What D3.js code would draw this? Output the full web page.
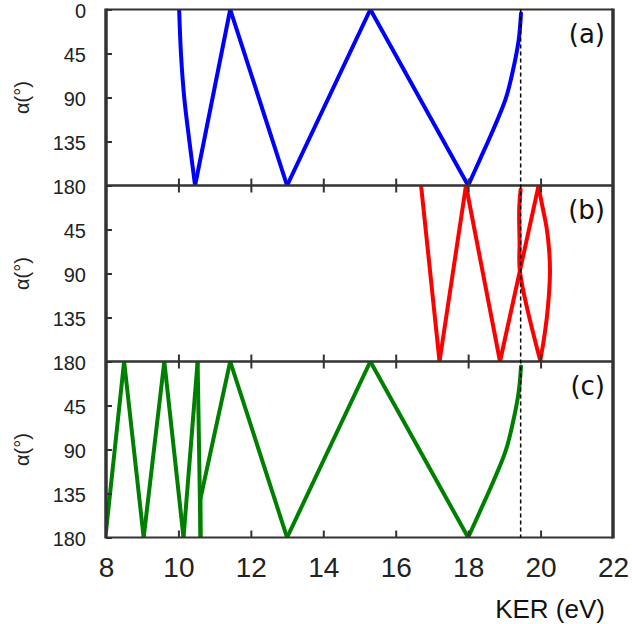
<!DOCTYPE html>
<html>
<head>
<meta charset="utf-8">
<script src="https://cdn.jsdelivr.net/npm/d3@7"></script>
<style>
  html, body { margin: 0; padding: 0; background: #fff; }
  svg { display: block; }
</style>
</head>
<body>
<svg id="chart" width="632" height="624"></svg>
<script>
// Axis values
const kerTicks = [8, 10, 12, 14, 16, 18, 20, 22];
const alphaTicks = [0, 45, 90, 135, 180];
const panelLabels = ["(a)", "(b)", "(c)"];
const thresholdKER = 19.45;

// Emission angle α (deg) versus kinetic energy release (eV), one series per panel
const seriesA = [
  [10.02, 0], [10.07, 45], [10.16, 90], [10.30, 134], [10.46, 180],
  [11.43, 0], [13.0, 180], [15.3, 0], [18.0, 180],
  [18.33, 153], [18.68, 124], [19.04, 91], [19.28, 55], [19.40, 30], [19.46, 4]
];
const seriesB = [
  [16.70, 0], [17.21, 180], [17.94, 0], [18.88, 180], [19.94, 1],
  [20.06, 23], [20.17, 44], [20.24, 68], [20.26, 88], [20.23, 112],
  [20.17, 136], [20.08, 160], [19.99, 179],
  [19.43, 88], [19.42, 58], [19.41, 24], [19.45, 4]
];
const seriesC = [
  [8.0, 174], [8.50, 0], [9.04, 180], [9.61, 0], [10.14, 180],
  [10.53, 0], [10.61, 180], [10.61, 140], [11.43, 0], [13.0, 180],
  [15.3, 0], [18.0, 180],
  [18.33, 153], [18.68, 124], [19.04, 91], [19.28, 55], [19.40, 30], [19.46, 5]
];
const seriesList = [seriesA, seriesB, seriesC];
const seriesColors = ["#0000ff", "#ff0000", "#008000"];

// Split a point list into branches at turning points in α and where a
// vertical run (constant KER) starts or ends, so each branch is smoothed on its own
function splitBranches(pts) {
  const out = [];
  let cur = [pts[0]];
  for (let k = 1; k < pts.length; k++) {
    cur.push(pts[k]);
    if (k < pts.length - 1) {
      const da1 = pts[k][1] - pts[k - 1][1];
      const da2 = pts[k + 1][1] - pts[k][1];
      const flat1 = pts[k][0] === pts[k - 1][0];
      const flat2 = pts[k + 1][0] === pts[k][0];
      if (da1 * da2 <= 0 || flat1 !== flat2) { out.push(cur); cur = [pts[k]]; }
    }
  }
  out.push(cur);
  return out;
}

const svg = d3.select("#chart");
const plotLeft = 106, plotRight = 613, plotTop = 9.5, panelH = 176;
const axisColor = "#333";

const x = d3.scaleLinear().domain([8, 22]).range([plotLeft, plotRight]);

seriesList.forEach((data, i) => {
  const y0 = plotTop + i * panelH;
  const y = d3.scaleLinear().domain([0, 180]).range([y0, y0 + panelH]);
  const g = svg.append("g");

  // clip each curve to its own panel
  const clipId = "clip" + i;
  svg.append("clipPath").attr("id", clipId)
    .append("rect").attr("x", plotLeft).attr("y", y0)
    .attr("width", plotRight - plotLeft).attr("height", panelH);

  const line = d3.line().x(d => x(d[0])).y(d => y(d[1]))
    .curve(d3.curveCatmullRom.alpha(0.5));
  g.append("g")
    .attr("clip-path", `url(#${clipId})`)
    .selectAll("path")
    .data(splitBranches(data))
    .join("path")
    .attr("d", line)
    .attr("fill", "none")
    .attr("stroke", seriesColors[i])
    .attr("stroke-width", 4)
    .attr("stroke-linecap", "round")
    .attr("stroke-linejoin", "round");

  // left axis with inward ticks
  const yAxis = d3.axisLeft(y).tickValues(alphaTicks).tickSize(-6).tickPadding(20)
    .tickFormat(v => (i > 0 && v === 0) ? "" : String(v));
  const ya = g.append("g").attr("transform", `translate(${plotLeft},0)`).call(yAxis);
  ya.select(".domain").remove();
  ya.selectAll(".tick line").attr("stroke", axisColor).attr("stroke-width", 2);
  ya.selectAll(".tick text")
    .attr("dy", "0.4em")
    .attr("font-family", "'Liberation Sans', Arial, sans-serif")
    .attr("font-size", 20).attr("fill", "#222");

  // bottom ticks (inward)
  const isLast = i === seriesList.length - 1;
  const xAxisB = d3.axisBottom(x).tickValues(kerTicks).tickSize(-7).tickPadding(19.5)
    .tickFormat(v => isLast ? String(v) : "");
  const xb = g.append("g").attr("transform", `translate(0,${y0 + panelH})`).call(xAxisB);
  xb.select(".domain").remove();
  xb.selectAll(".tick").filter(v => v === 8 || v === 22).select("line").remove();
  xb.selectAll(".tick line").attr("stroke", axisColor).attr("stroke-width", 2);
  xb.selectAll(".tick text")
    .attr("font-family", "'Liberation Sans', Arial, sans-serif")
    .attr("font-size", 28).attr("fill", "#222");

  // top ticks (inward) for lower panels
  if (i > 0) {
    const xAxisT = d3.axisTop(x).tickValues(kerTicks).tickSize(-7).tickFormat("");
    const xt = g.append("g").attr("transform", `translate(0,${y0})`).call(xAxisT);
    xt.select(".domain").remove();
    xt.selectAll(".tick").filter(v => v === 8 || v === 22).select("line").remove();
    xt.selectAll(".tick line").attr("stroke", axisColor).attr("stroke-width", 2);
  }

  // horizontal panel borders
  g.append("line").attr("x1", plotLeft).attr("x2", plotRight).attr("y1", y0).attr("y2", y0)
    .attr("stroke", axisColor).attr("stroke-width", 2.2);
  g.append("line").attr("x1", plotLeft).attr("x2", plotRight)
    .attr("y1", y0 + panelH).attr("y2", y0 + panelH)
    .attr("stroke", axisColor).attr("stroke-width", 2.2);

  // angle label
  g.append("text")
    .attr("transform", `translate(29,${y0 + panelH / 2}) rotate(-90)`)
    .attr("text-anchor", "middle")
    .attr("font-family", "'Liberation Sans', Arial, sans-serif")
    .attr("font-size", 20).attr("fill", "#222")
    .text("α(°)");

  // panel tag
  g.append("text")
    .attr("x", 605).attr("y", y0 + 33)
    .attr("text-anchor", "end")
    .attr("font-family", "'DejaVu Sans', Verdana, sans-serif")
    .attr("font-size", 26).attr("fill", "#111")
    .text(panelLabels[i]);
});

const plotBottom = plotTop + 3 * panelH;

// threshold marker
svg.append("line")
  .attr("x1", x(thresholdKER)).attr("x2", x(thresholdKER))
  .attr("y1", plotTop).attr("y2", plotBottom)
  .attr("stroke", "#000").attr("stroke-width", 1.5)
  .attr("stroke-dasharray", "4,3");

// outer vertical frame
svg.append("line").attr("x1", plotLeft).attr("x2", plotLeft)
  .attr("y1", plotTop - 1).attr("y2", plotBottom + 1)
  .attr("stroke", axisColor).attr("stroke-width", 3.5);
svg.append("line").attr("x1", plotRight).attr("x2", plotRight)
  .attr("y1", plotTop - 1).attr("y2", plotBottom + 1)
  .attr("stroke", axisColor).attr("stroke-width", 3.5);

// x-axis title
svg.append("text")
  .attr("x", 605).attr("y", 618)
  .attr("text-anchor", "end")
  .attr("font-family", "'Liberation Sans', Arial, sans-serif")
  .attr("font-size", 26).attr("fill", "#111")
  .text("KER (eV)");
</script>
</body>
</html>
